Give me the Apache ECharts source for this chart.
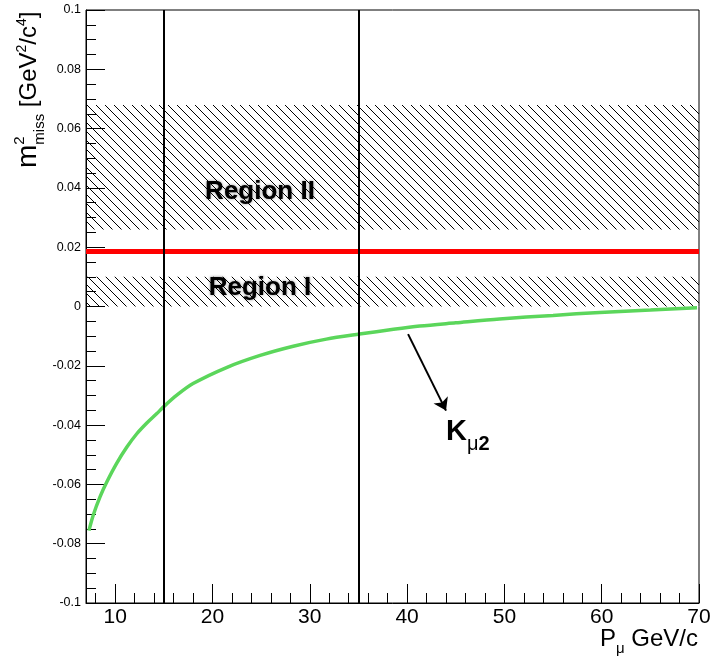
<!DOCTYPE html>
<html>
<head>
<meta charset="utf-8">
<script src="https://cdn.jsdelivr.net/npm/echarts@6/dist/echarts.min.js"></script>
<style>
html, body { margin: 0; padding: 0; background: #fff; }
#chart { width: 720px; height: 657px; }
</style>
</head>
<body>
<div id="chart"></div>
<script>
// K_mu2 kinematic band: muon momentum (GeV/c) vs missing mass squared (GeV^2/c^4)
const pMu    = [7.3, 7.75, 8.45, 9.15, 10.15, 11.2, 12.2, 13.25, 14.25, 15.05, 16.3, 18.0, 21.5,
                24.9, 28.3, 31.7, 35.1, 38.6, 41.3, 45, 49.5, 55, 59.8, 65, 69.8];
const m2Miss = [-0.0756, -0.0703, -0.0641, -0.0591, -0.0529, -0.0474, -0.0430, -0.0393, -0.0362, -0.0336,
                -0.0300, -0.0260, -0.0205, -0.0165, -0.0134, -0.0110, -0.0093, -0.0077, -0.0066, -0.0055,
                -0.0042, -0.0030, -0.0020, -0.0012, -0.0004];

// Momentum cuts (GeV/c)
const pCuts = [15, 35];
// Horizontal reference level (GeV^2/c^4)
const refLevel = [0.0185];
// Signal regions in m2miss: [low, high]
const regionI  = [0, 0.010];
const regionII = [0.026, 0.068];
const regionNames = ['Region I', 'Region II'];

// Axis ranges and ticks
const xRange = [7, 70];
const yRange = [-0.1, 0.1];
const yStep = 0.02;
const xMajorTicks = [10, 20, 30, 40, 50, 60, 70];
const xMinorTicks = [8, 12, 14, 16, 18, 22, 24, 26, 28, 32, 34, 36, 38, 42, 44, 46, 48,
                     52, 54, 56, 58, 62, 64, 66, 68];

// Annotation arrow pointing from the band towards its label
const arrowFrom = [40.1, -0.0093];
const arrowTo   = [44.0, -0.0351];

const FONT = '"Liberation Sans", Arial, Helvetica, sans-serif';

// Diagonal hatching tile used to fill the regions
function hatchTile() {
  const s = 9;
  const c = document.createElement('canvas');
  c.width = s; c.height = s;
  const g = c.getContext('2d');
  g.strokeStyle = '#000';
  g.lineWidth = 1;
  g.beginPath();
  g.moveTo(-1, -1); g.lineTo(s + 1, s + 1);
  g.moveTo(-1, s - 1); g.lineTo(1, s + 1);
  g.moveTo(s - 1, -1); g.lineTo(s + 1, 1);
  g.stroke();
  return c;
}

// Lay out a run of text pieces (super/subscripts) along one baseline
const measureCtx = document.createElement('canvas').getContext('2d');
function textRun(tokens, color) {
  let u = 0, prevStart = 0;
  const children = [];
  tokens.forEach(t => {
    const weight = t.bold ? 'bold' : 'normal';
    measureCtx.font = weight + ' ' + t.size + 'px ' + FONT;
    const w = measureCtx.measureText(t.text).width;
    const start = t.stack ? prevStart : u;
    children.push({
      type: 'text',
      x: start,
      y: (t.dy || 0) - 0.3465 * t.size,
      style: {
        text: t.text, fontSize: t.size, fontFamily: FONT, fontWeight: weight,
        fill: color, align: 'left', verticalAlign: 'middle'
      }
    });
    prevStart = start;
    u = Math.max(u, start + w);
  });
  return { children, width: u };
}

const yTitle = textRun([
  { text: 'm', size: 28 },
  { text: '2', size: 15, dy: -13 },
  { text: 'miss', size: 15, dy: 7, stack: true },
  { text: ' [GeV', size: 24 },
  { text: '2', size: 14, dy: -11 },
  { text: '/c', size: 24 },
  { text: '4', size: 14, dy: -11 },
  { text: ']', size: 24 }
], '#000');

const xTitle = textRun([
  { text: 'P', size: 24 },
  { text: '\u03bc', size: 15, dy: 6 },
  { text: ' GeV/c', size: 24 }
], '#000');

const kLabel = textRun([
  { text: 'K', size: 29, bold: true },
  { text: '\u03bc', size: 20, dy: 9 },
  { text: '2', size: 20, dy: 9, bold: true }
], '#000');

const hatch = { image: hatchTile(), repeat: 'repeat' };

const chart = echarts.init(document.getElementById('chart'), null, { renderer: 'canvas' });

const option = {
  backgroundColor: '#fff',
  animation: false,
  grid: {
    left: 86, right: 21, top: 10, bottom: 54,
    show: true, borderColor: '#000', borderWidth: 1, backgroundColor: 'transparent'
  },
  xAxis: [{
    type: 'value', min: xRange[0], max: xRange[1], position: 'bottom',
    axisLine: { show: true, onZero: false, lineStyle: { color: '#000', width: 1 } },
    axisTick: { show: true, inside: true, length: 19, customValues: xMajorTicks, lineStyle: { color: '#000', width: 1 } },
    axisLabel: { customValues: xMajorTicks, fontSize: 21, fontFamily: FONT, color: '#000', margin: 4 },
    splitLine: { show: false }
  }, {
    type: 'value', min: xRange[0], max: xRange[1], position: 'bottom', offset: 0,
    axisLine: { show: false, onZero: false },
    axisTick: { show: true, inside: true, length: 10, customValues: xMinorTicks, lineStyle: { color: '#000', width: 1 } },
    axisLabel: { show: false },
    splitLine: { show: false }
  }],
  yAxis: {
    type: 'value', min: yRange[0], max: yRange[1], interval: yStep,
    axisLine: { show: true, onZero: false, lineStyle: { color: '#000', width: 1 } },
    axisTick: { show: true, inside: true, length: 19, lineStyle: { color: '#000', width: 1 } },
    minorTick: { show: true, splitNumber: 4, length: 10, lineStyle: { color: '#000', width: 1 } },
    axisLabel: { fontSize: 12.5, fontFamily: FONT, color: '#000', margin: 5 },
    splitLine: { show: false },
    minorSplitLine: { show: false }
  },
  series: [
    {
      name: 'regions', type: 'line', data: [], silent: true, z: 1,
      markArea: {
        silent: true,
        itemStyle: { color: hatch, borderWidth: 0 },
        data: [
          [{ name: regionNames[0], yAxis: regionI[0] }, { yAxis: regionI[1] }],
          [{ name: regionNames[1], yAxis: regionII[0] }, { yAxis: regionII[1] }]
        ],
        label: { show: false }
      }
    },
    {
      name: 'reference', type: 'line', data: [], silent: true, z: 2,
      markLine: {
        silent: true, symbol: 'none', label: { show: false }, precision: 6,
        lineStyle: { color: '#ff0000', width: 5, type: 'solid' },
        data: refLevel.map(v => ({ yAxis: v }))
      }
    },
    {
      name: 'cuts', type: 'line', data: [], silent: true, z: 3,
      markLine: {
        silent: true, symbol: 'none', label: { show: false }, precision: 6,
        lineStyle: { color: '#000', width: 2, type: 'solid' },
        data: pCuts.map(v => ({ xAxis: v }))
      }
    },
    {
      name: 'Kmu2', type: 'line', z: 4,
      data: pMu.map((p, i) => [p, m2Miss[i]]),
      showSymbol: false, smooth: 0.3,
      lineStyle: { color: '#5bd65b', width: 3.5 }
    },
    {
      name: 'arrow', type: 'line', data: [], silent: true, z: 5,
      markLine: {
        silent: true, symbol: ['none', 'arrow'], symbolSize: 12, label: { show: false }, precision: 6,
        lineStyle: { color: '#000', width: 2, type: 'solid' },
        data: [[{ coord: arrowFrom }, { coord: arrowTo }]]
      }
    }
  ],
  graphic: [
    {
      type: 'text', x: 260, y: 192,
      style: {
        text: regionNames[1], fontSize: 26, fontWeight: 'bold', fontFamily: FONT, fill: '#000',
        align: 'center', verticalAlign: 'middle',
        textShadowColor: 'rgba(0,0,0,0.45)', textShadowBlur: 3
      }
    },
    {
      type: 'text', x: 260, y: 288,
      style: {
        text: regionNames[0], fontSize: 26, fontWeight: 'bold', fontFamily: FONT, fill: '#000',
        align: 'center', verticalAlign: 'middle',
        textShadowColor: 'rgba(0,0,0,0.45)', textShadowBlur: 3
      }
    },
    { type: 'group', x: 446, y: 442, children: kLabel.children },
    { type: 'group', x: 698 - xTitle.width, y: 648, children: xTitle.children },
    { type: 'group', x: 38, y: 168, rotation: Math.PI / 2, children: yTitle.children }
  ]
};

chart.setOption(option);
</script>
</body>
</html>
